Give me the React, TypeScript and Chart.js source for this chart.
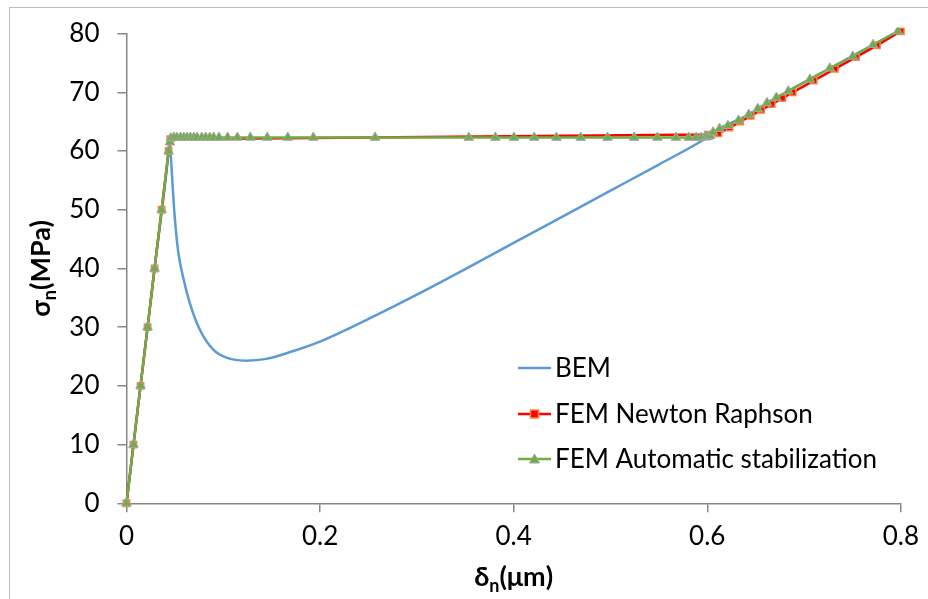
import React, { useEffect, useRef } from 'react';
import { Chart, registerables } from 'chart.js';

Chart.register(...registerables);

// ---------- data ----------
const seriesNames = ['BEM', 'FEM Newton Raphson', 'FEM Automatic stabilization'];

const bemX = [0, 0.0145, 0.029, 0.0435, 0.0445, 0.0458, 0.0476, 0.0499, 0.0533, 0.0585, 0.0654, 0.0757, 0.0894, 0.1031, 0.1237, 0.1443, 0.1717, 0.1992, 0.225, 0.25, 0.30, 0.35, 0.40, 0.45, 0.50, 0.55, 0.60, 0.6127, 0.6429, 0.6837, 0.7266, 0.7713, 0.7970];
const bemY = [0, 20, 40, 60, 62.0, 59.2, 54.2, 48.6, 43.0, 38.5, 34.1, 29.6, 26.2, 24.8, 24.3, 24.6, 25.9, 27.5, 29.4, 31.4, 35.55, 39.9, 44.35, 48.8, 53.25, 57.7, 62.3, 63.8, 66.2, 70.2, 74.1, 78.1, 80.4];

const nrX = [0, 0.0072, 0.0145, 0.0218, 0.029, 0.0363, 0.0435, 0.0452, 0.6005, 0.6115, 0.6231, 0.634, 0.6449, 0.6557, 0.6666, 0.6775, 0.6883, 0.71, 0.7318, 0.7536, 0.7753, 0.800];
const nrY = [0, 10, 20, 30, 40, 50, 60, 62.0, 62.8, 63.0, 64, 65, 66, 67, 68, 69, 70, 72, 74, 76, 78, 80.4];

const autoX = [0, 0.0072, 0.0145, 0.0218, 0.029, 0.0363, 0.0435, 0.0448, 0.0458, 0.0489, 0.052, 0.0558, 0.0592, 0.0626, 0.066, 0.0695, 0.0729, 0.0777, 0.0818, 0.086, 0.090, 0.0955, 0.1045, 0.1145, 0.1279, 0.1454, 0.1666, 0.193, 0.2568, 0.3536, 0.3811, 0.4003, 0.4212, 0.4442, 0.4692, 0.497, 0.5245, 0.5485, 0.5677, 0.5808, 0.5886, 0.5938, 0.5979, 0.6005, 0.603, 0.6061, 0.6127, 0.6213, 0.6323, 0.6429, 0.6522, 0.6617, 0.6714, 0.6837, 0.706, 0.7266, 0.7503, 0.7713, 0.797];
const autoY = [0, 10, 20, 30, 40, 50, 60, 61.5, 62.2, 62.3, 62.3, 62.3, 62.3, 62.3, 62.3, 62.3, 62.3, 62.3, 62.3, 62.3, 62.3, 62.3, 62.3, 62.3, 62.3, 62.3, 62.3, 62.3, 62.3, 62.3, 62.3, 62.3, 62.3, 62.3, 62.3, 62.3, 62.3, 62.3, 62.3, 62.3, 62.3, 62.3, 62.35, 62.4, 62.6, 63.2, 63.8, 64.3, 65.2, 66.2, 67.2, 68.2, 69.1, 70.2, 72.2, 74.1, 76.1, 78.1, 80.4];

const xTitle = ['δ', 'n', '(μm)'];
const yTitle = ['σ', 'n', '(MPa)'];

const xMin = 0, xMax = 0.8, xStep = 0.2;
const yMin = 0, yMax = 80, yStep = 10;

// ---------- styles ----------
const FONT = "Lato, 'Open Sans', 'DejaVu Sans', sans-serif";
const BLUE = '#5B9BD5';
const RED = '#FF0000';
const RED_EDGE = '#F7853B';
const GREEN = '#70AD47';
const GREEN_EDGE = '#A5A5A5';
const AXIS = '#868686';

const toPts = (xs: number[], ys: number[]) => xs.map((x, i) => ({ x, y: ys[i] }));

function drawSubTitle(ctx: CanvasRenderingContext2D, parts: string[], cx: number, cy: number, rot: number) {
  ctx.save();
  ctx.translate(cx, cy);
  ctx.rotate(rot);
  ctx.fillStyle = '#000';
  ctx.textBaseline = 'alphabetic';
  const big = `bold 27px ${FONT}`;
  const small = `bold 18px ${FONT}`;
  ctx.font = big;
  const w0 = ctx.measureText(parts[0]).width;
  const w2 = ctx.measureText(parts[2]).width;
  ctx.font = small;
  const w1 = ctx.measureText(parts[1]).width;
  const total = w0 + w1 + w2;
  let x = -total / 2;
  const base = 9;
  ctx.font = big;
  ctx.fillText(parts[0], x, base);
  x += w0;
  ctx.font = small;
  ctx.fillText(parts[1], x, base + 6);
  x += w1;
  ctx.font = big;
  ctx.fillText(parts[2], x, base);
  ctx.restore();
}

const decorPlugin = {
  id: 'decor',
  beforeDraw(chart: any) {
    const ctx = chart.ctx as CanvasRenderingContext2D;
    ctx.save();
    ctx.fillStyle = '#fff';
    ctx.fillRect(0, 0, chart.width, chart.height);
    ctx.strokeStyle = '#BDBDBD';
    ctx.lineWidth = 1;
    ctx.strokeRect(9.5, 7.5, 2000, 2000);
    ctx.restore();
  },
  afterDraw(chart: any) {
    const ctx = chart.ctx as CanvasRenderingContext2D;
    const area = chart.chartArea;
    // axis titles
    drawSubTitle(ctx, yTitle, 41, (area.top + area.bottom) / 2, -Math.PI / 2);
    drawSubTitle(ctx, xTitle, (area.left + area.right) / 2, 577, 0);
    // legend
    const rows = [368, 414, 459];
    const lx0 = 518, lx1 = 551, tx = 555;
    ctx.save();
    ctx.font = `26px ${FONT}`;
    ctx.textBaseline = 'middle';
    chart.data.datasets.forEach((ds: any, i: number) => {
      const y = rows[i];
      ctx.strokeStyle = ds.borderColor;
      ctx.lineWidth = 2.5;
      ctx.beginPath();
      ctx.moveTo(lx0, y);
      ctx.lineTo(lx1, y);
      ctx.stroke();
      const mx = (lx0 + lx1) / 2;
      if (i === 1) {
        ctx.fillStyle = RED;
        ctx.strokeStyle = RED_EDGE;
        ctx.lineWidth = 1.5;
        ctx.fillRect(mx - 4, y - 4, 8, 8);
        ctx.strokeRect(mx - 4, y - 4, 8, 8);
      } else if (i === 2) {
        ctx.fillStyle = GREEN;
        ctx.strokeStyle = GREEN_EDGE;
        ctx.lineWidth = 1;
        ctx.beginPath();
        ctx.moveTo(mx, y - 5);
        ctx.lineTo(mx + 5, y + 4);
        ctx.lineTo(mx - 5, y + 4);
        ctx.closePath();
        ctx.fill();
        ctx.stroke();
      }
      ctx.fillStyle = '#000';
      ctx.fillText(ds.label, tx, y + 1);
    });
    ctx.restore();
  },
};

export default function App() {
  const canvasRef = useRef<HTMLCanvasElement | null>(null);

  useEffect(() => {
    document.body.style.margin = '0';
    const canvas = canvasRef.current;
    if (!canvas) return;
    const chart = new Chart(canvas, {
      type: 'line',
      data: {
        datasets: [
          {
            label: seriesNames[0],
            data: toPts(bemX, bemY),
            borderColor: BLUE,
            backgroundColor: BLUE,
            borderWidth: 2.5,
            pointRadius: 0,
            cubicInterpolationMode: 'monotone',
            order: 3,
            clip: 6,
          },
          {
            label: seriesNames[1],
            data: toPts(nrX, nrY),
            borderColor: RED,
            backgroundColor: RED,
            borderWidth: 2.5,
            pointStyle: 'rect',
            pointRadius: 4.5,
            pointBackgroundColor: RED,
            pointBorderColor: RED_EDGE,
            pointBorderWidth: 1.5,
            tension: 0,
            order: 2,
            clip: 6,
          },
          {
            label: seriesNames[2],
            data: toPts(autoX, autoY),
            borderColor: GREEN,
            backgroundColor: GREEN,
            borderWidth: 2.5,
            pointStyle: 'triangle',
            pointRadius: 5.5,
            pointBackgroundColor: GREEN,
            pointBorderColor: GREEN_EDGE,
            pointBorderWidth: 1,
            tension: 0,
            order: 1,
            clip: 6,
          },
        ],
      },
      options: {
        animation: false,
        responsive: false,
        devicePixelRatio: 1,
        layout: { padding: { left: 0, right: 24.4, top: 25.7, bottom: 0 } },
        plugins: {
          legend: { display: false },
          tooltip: { enabled: false },
          title: { display: false },
        },
        scales: {
          x: {
            type: 'linear',
            min: xMin,
            max: xMax,
            afterFit: (s: any) => { s.height = 599 - 503.3; },
            ticks: {
              stepSize: xStep,
              color: '#000',
              font: { family: FONT, size: 26 },
              padding: 9,
              maxRotation: 0,
            },
            grid: {
              display: true,
              drawOnChartArea: false,
              drawTicks: true,
              tickLength: 9,
              color: AXIS,
              lineWidth: 1.5,
            },
            border: { display: true, color: AXIS, width: 1.5 },
          },
          y: {
            type: 'linear',
            min: yMin,
            max: yMax,
            afterFit: (s: any) => { s.width = 126.5; },
            ticks: {
              stepSize: yStep,
              color: '#000',
              font: { family: FONT, size: 26 },
              padding: 18,
            },
            grid: {
              display: true,
              drawOnChartArea: false,
              drawTicks: true,
              tickLength: 9,
              color: AXIS,
              lineWidth: 1.5,
            },
            border: { display: true, color: AXIS, width: 1.5 },
          },
        },
      },
      plugins: [decorPlugin],
    } as any);
    return () => chart.destroy();
  }, []);

  return (
    <div style={{ width: 928, height: 599, position: 'relative' }}>
      <canvas ref={canvasRef} width={928} height={599} style={{ display: 'block' }} />
    </div>
  );
}
